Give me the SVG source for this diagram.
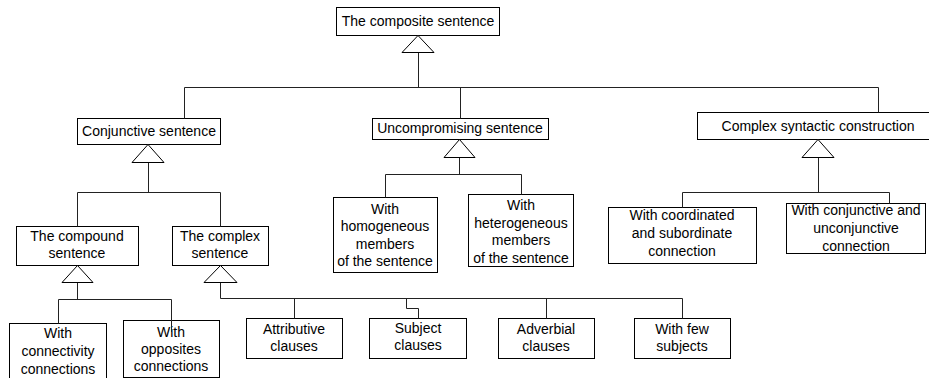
<svg xmlns="http://www.w3.org/2000/svg" width="929" height="378" viewBox="0 0 929 378">
  <style>
    .box { fill: #fff; stroke: #000; stroke-width: 1; }
    .lbl { font-family: "Liberation Sans", Arial, sans-serif; font-size: 14px; fill: #000; text-anchor: middle; }
    .wire { fill: none; stroke: #222; stroke-width: 1; }
    .tri { fill: #fff; stroke: #000; stroke-width: 1; }
  </style>
  <rect width="929" height="378" fill="#fff"/>

  <g id="node-composite">
    <rect class="box" x="336.5" y="7.5" width="163" height="28"/>
    <text class="lbl" x="418" y="26">The composite sentence</text>
  </g>
  <g id="node-conjunctive">
    <rect class="box" x="77.5" y="118.5" width="143" height="26"/>
    <text class="lbl" x="149" y="136">Conjunctive sentence</text>
  </g>
  <g id="node-uncompromising">
    <rect class="box" x="372.5" y="118.5" width="176" height="21"/>
    <text class="lbl" x="460" y="133">Uncompromising sentence</text>
  </g>
  <g id="node-complex-construction">
    <rect class="box" x="697.5" y="112.5" width="240" height="27"/>
    <text class="lbl" x="818" y="131">Complex syntactic construction</text>
  </g>
  <g id="node-compound">
    <rect class="box" x="16.5" y="226.5" width="122" height="39"/>
    <text class="lbl" x="77" y="241">The compound</text>
    <text class="lbl" x="77" y="258">sentence</text>
  </g>
  <g id="node-complex">
    <rect class="box" x="172.5" y="226.5" width="96" height="39"/>
    <text class="lbl" x="220" y="241">The complex</text>
    <text class="lbl" x="220" y="258">sentence</text>
  </g>
  <g id="node-homogeneous">
    <rect class="box" x="333.5" y="197.5" width="104" height="75"/>
    <text class="lbl" x="385" y="213.5">With</text>
    <text class="lbl" x="385" y="231">homogeneous</text>
    <text class="lbl" x="385" y="248.5">members</text>
    <text class="lbl" x="385" y="266">of the sentence</text>
  </g>
  <g id="node-heterogeneous">
    <rect class="box" x="468.5" y="194.5" width="105" height="72"/>
    <text class="lbl" x="521" y="210">With</text>
    <text class="lbl" x="521" y="227.5">heterogeneous</text>
    <text class="lbl" x="521" y="245">members</text>
    <text class="lbl" x="521" y="262.5">of the sentence</text>
  </g>
  <g id="node-coordinated">
    <rect class="box" x="608.5" y="207.5" width="148" height="56"/>
    <text class="lbl" x="682" y="220">With coordinated</text>
    <text class="lbl" x="682" y="238">and subordinate</text>
    <text class="lbl" x="682" y="256">connection</text>
  </g>
  <g id="node-conjunctive-unconjunctive">
    <rect class="box" x="786.5" y="203.5" width="139" height="50"/>
    <text class="lbl" x="856" y="215">With conjunctive and</text>
    <text class="lbl" x="856" y="233">unconjunctive</text>
    <text class="lbl" x="856" y="251">connection</text>
  </g>
  <g id="node-connectivity">
    <rect class="box" x="9.5" y="323.5" width="97" height="60"/>
    <text class="lbl" x="58" y="338">With</text>
    <text class="lbl" x="58" y="356">connectivity</text>
    <text class="lbl" x="58" y="374">connections</text>
  </g>
  <g id="node-opposites">
    <rect class="box" x="123.5" y="320.5" width="96" height="57"/>
    <text class="lbl" x="171" y="337">With</text>
    <text class="lbl" x="171" y="354">opposites</text>
    <text class="lbl" x="171" y="371">connections</text>
  </g>
  <g id="node-attributive">
    <rect class="box" x="246.5" y="318.5" width="96" height="40"/>
    <text class="lbl" x="294" y="334">Attributive</text>
    <text class="lbl" x="294" y="351">clauses</text>
  </g>
  <g id="node-subject">
    <rect class="box" x="369.5" y="318.5" width="97" height="40"/>
    <text class="lbl" x="418" y="333">Subject</text>
    <text class="lbl" x="418" y="350">clauses</text>
  </g>
  <g id="node-adverbial">
    <rect class="box" x="498.5" y="318.5" width="96" height="40"/>
    <text class="lbl" x="546" y="334">Adverbial</text>
    <text class="lbl" x="546" y="351">clauses</text>
  </g>
  <g id="node-few-subjects">
    <rect class="box" x="634.5" y="318.5" width="96" height="40"/>
    <text class="lbl" x="682" y="334">With few</text>
    <text class="lbl" x="682" y="351">subjects</text>
  </g>

  <g id="connectors">
    <!-- composite sentence -->
    <path class="wire" d="M418.5 52.5 V87.5 M184.5 87.5 H878.5 M184.5 87.5 V118.5 M460.5 87.5 V118.5 M878.5 87.5 V112.5"/>
    <polygon class="tri" points="418,35.5 402,52.5 434,52.5"/>
    <!-- conjunctive sentence -->
    <path class="wire" d="M148.5 162.5 V192.5 M77.5 192.5 H220.5 M77.5 192.5 V226.5 M220.5 192.5 V226.5"/>
    <polygon class="tri" points="148,144.5 132,162.5 164,162.5"/>
    <!-- uncompromising sentence -->
    <path class="wire" d="M459.5 157.5 V174.5 M385.5 174.5 H521.5 M385.5 174.5 V197.5 M521.5 174.5 V194.5"/>
    <polygon class="tri" points="459.5,139.5 444,157.5 475,157.5"/>
    <!-- complex syntactic construction -->
    <path class="wire" d="M818.5 157.5 V192.5 M682.5 192.5 H889.5 M682.5 192.5 V207.5 M889.5 192.5 V203.5"/>
    <polygon class="tri" points="818,139.5 802,157.5 834,157.5"/>
    <!-- compound sentence -->
    <path class="wire" d="M77.5 282.5 V299.5 M58.5 299.5 H171.5 M58.5 299.5 V323.5 M171.5 299.5 V332"/>
    <polygon class="tri" points="77.5,265.5 62,282.5 93,282.5"/>
    <!-- complex sentence -->
    <path class="wire" d="M220.5 282.5 V298.5 H682.5 M294.5 298.5 V318.5 M406.5 298.5 V308.5 H418.5 V318.5 M546.5 298.5 V318.5 M682.5 298.5 V318.5"/>
    <polygon class="tri" points="220.5,265.5 204,282.5 237,282.5"/>
  </g>
</svg>
